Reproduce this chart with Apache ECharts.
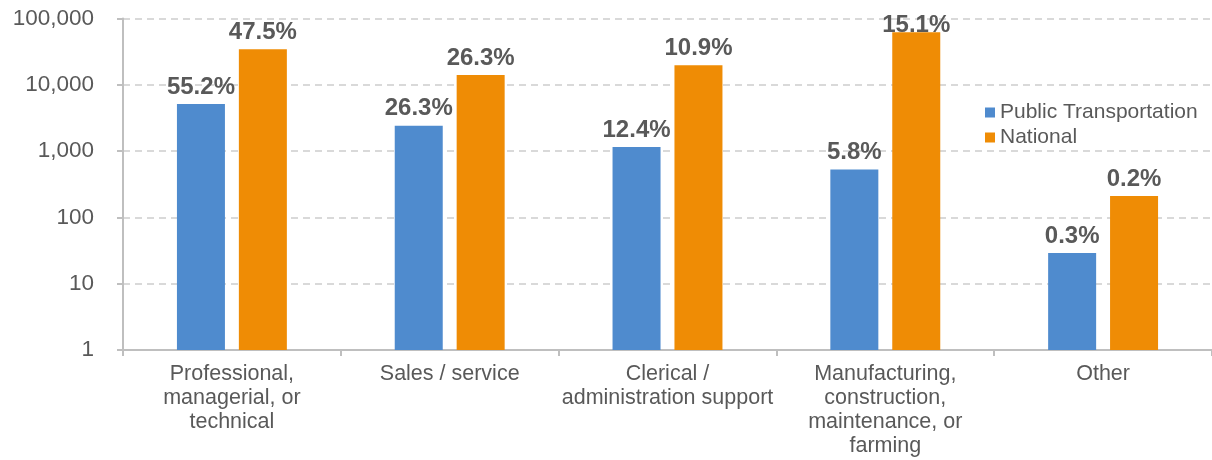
<!DOCTYPE html>
<html>
<head>
<meta charset="utf-8">
<script src="https://cdn.jsdelivr.net/npm/echarts@6/dist/echarts.min.js"></script>
<style>
html,body{margin:0;padding:0;background:#fff;}
#chart{width:1212px;height:460px;}
</style>
</head>
<body>
<div id="chart"></div>
<script>
const categories = [
  'Professional,\nmanagerial, or\ntechnical',
  'Sales / service',
  'Clerical /\nadministration support',
  'Manufacturing,\nconstruction,\nmaintenance, or\nfarming',
  'Other'
];
const seriesNames = ['Public Transportation', 'National'];
const publicTransport = [5130, 2420, 1150, 530, 29];
const national = [34300, 14100, 19700, 61900, 210];
const publicTransportPct = ['55.2%', '26.3%', '12.4%', '5.8%', '0.3%'];
const nationalPct = ['47.5%', '26.3%', '10.9%', '15.1%', '0.2%'];
const yTicks = [1, 10, 100, 1000, 10000, 100000];

const FONT = '"Liberation Sans", Arial, sans-serif';
const TXT = '#595959';

function labelCfg(pcts) {
  return {
    show: true,
    position: 'top',
    distance: 5,
    fontFamily: FONT,
    fontSize: 24,
    fontWeight: 'bold',
    color: TXT,
    formatter: p => pcts[p.dataIndex]
  };
}

const chart = echarts.init(document.getElementById('chart'), null, {renderer: 'canvas'});
chart.setOption({
  animation: false,
  backgroundColor: '#fff',
  textStyle: {fontFamily: FONT},
  grid: {left: 123, top: 18.5, width: 1092, height: 331.5, containLabel: false},
  legend: {
    orient: 'vertical',
    left: 985,
    top: 102,
    padding: 0,
    itemWidth: 10,
    itemHeight: 10,
    itemGap: 4,
    icon: 'rect',
    textStyle: {fontFamily: FONT, fontSize: 21, color: TXT},
    data: seriesNames
  },
  xAxis: {
    type: 'category',
    data: categories,
    axisLine: {lineStyle: {color: '#bfbfbf', width: 2}},
    axisTick: {show: true, length: 6, lineStyle: {color: '#bfbfbf', width: 2}},
    axisLabel: {
      interval: 0,
      margin: 12,
      fontFamily: FONT,
      fontSize: 21.5,
      lineHeight: 24,
      color: TXT,
      align: 'center'
    }
  },
  yAxis: {
    type: 'log',
    logBase: 10,
    min: yTicks[0],
    max: yTicks[yTicks.length - 1],
    axisLine: {show: true, lineStyle: {color: '#bfbfbf', width: 2}},
    axisTick: {show: true, length: 6, lineStyle: {color: '#bfbfbf', width: 2}},
    splitLine: {show: true, lineStyle: {color: '#d9d9d9', width: 2, type: [7, 5]}},
    axisLabel: {
      margin: 29,
      fontFamily: FONT,
      fontSize: 22.5,
      color: TXT,
      formatter: v => Math.round(v).toLocaleString('en-US')
    }
  },
  series: [
    {
      name: seriesNames[0],
      type: 'bar',
      barWidth: 48,
      barGap: '29%',
      itemStyle: {color: '#4f8bce'},
      label: labelCfg(publicTransportPct),
      data: publicTransport
    },
    {
      name: seriesNames[1],
      type: 'bar',
      barWidth: 48,
      barGap: '29%',
      itemStyle: {color: '#ef8c05'},
      label: labelCfg(nationalPct),
      data: national.map((v, i) => v === Math.max(...national) ? {value: v, label: {distance: -5}} : v)
    }
  ]
});
</script>
</body>
</html>
